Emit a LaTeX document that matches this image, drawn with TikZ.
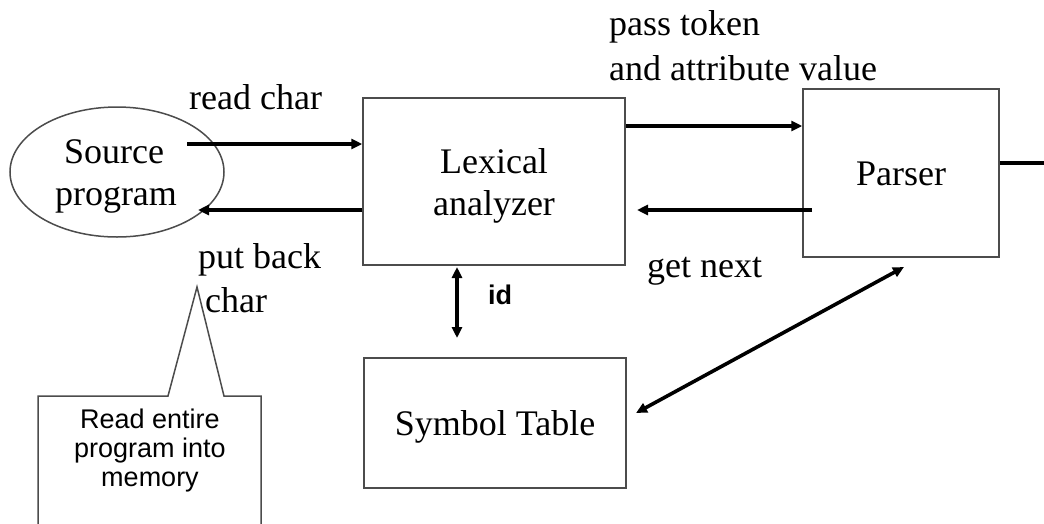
\documentclass[tikz,border=0pt]{standalone}
\usepackage{fontspec}
\setmainfont{Liberation Serif}
\newfontfamily\calloutfont{Liberation Sans}
\usetikzlibrary{arrows.meta,shapes.geometric}

\tikzset{
  block/.style={draw=black!70, line width=1.5pt, inner sep=0pt},
  flow/.style={line width=3.6pt, -{Triangle[length=11pt,width=10pt]}},
  bothway/.style={line width=3.6pt, {Triangle[length=11pt,width=10pt]}-{Triangle[length=11pt,width=10pt]}},
  serif/.style={font=\fontsize{36}{42}\selectfont, inner sep=0pt},
  note/.style={font=\calloutfont\fontsize{27}{29}\selectfont, inner sep=0pt},
}

\begin{document}
\begin{tikzpicture}[x=1pt, y=-1pt]
  \clip (0,0) rectangle (1044,523);
  \fill[white] (0,0) rectangle (1044,523);

  % components
  \node[block, ellipse, minimum width=214pt, minimum height=130pt] (src) at (117,172) {};
  \node[block, minimum width=262pt, minimum height=167pt] (lex) at (494,181.5) {};
  \node[block, minimum width=196pt, minimum height=168pt] (parser) at (901,173) {};
  \node[block, minimum width=262pt, minimum height=130pt] (symtab) at (495,423) {};

  % component names
  \node[serif, anchor=base] (srcA) at (114,163) {Source};
  \node[serif, anchor=base] (srcB) at (116,205) {program};
  \node[serif, anchor=base] (lexA) at (494,173) {Lexical};
  \node[serif, anchor=base] (lexB) at (494,215) {analyzer};
  \node[serif, anchor=base] (parT) at (901,185) {Parser};
  \node[serif, anchor=base] (symT) at (495,435) {Symbol Table};

  % connector labels
  \node[serif, anchor=base west] (readc) at (189,109) {read char};
  \node[serif, anchor=base west] (putA) at (198,268) {put back};
  \node[serif, anchor=base west] (putB) at (205,312) {char};
  \node[serif, anchor=base west] (passA) at (609,35) {pass token};
  \node[serif, anchor=base west] (passB) at (609,80) {and attribute value};
  \node[serif, anchor=base west] (getn) at (647,277) {get next};
  \node[font=\calloutfont\bfseries\fontsize{27}{29}\selectfont, inner sep=0pt, anchor=base west] (idl) at (488,304) {id};

  % connector end points
  \coordinate (rcStart) at (187,144);
  \coordinate (pbEnd) at (198,210);
  \coordinate (gnStart) at (812,210);
  \coordinate (gnEnd) at (637,210);
  \coordinate (idTop) at (457,267);
  \coordinate (idBot) at (457,338);
  \coordinate (stEnd) at (636,413);
  \coordinate (paEnd) at (904,267);
  \coordinate (outEnd) at (1060,163);

  % connectors
  \draw[flow] (rcStart) -- (rcStart -| lex.west);
  \draw[flow] (pbEnd -| lex.west) -- (pbEnd);
  \draw[flow] (lex.east |- 0,126) -- (parser.west |- 0,126);
  \draw[flow] (gnStart) -- (gnEnd);
  \draw[bothway] (idTop) -- (idBot);
  \draw[bothway] (stEnd) -- (paEnd);
  \draw[line width=3.6pt] (parser.east |- outEnd) -- (outEnd);

  % callout
  \draw[draw=black!70, line width=1.5pt]
    (38,540) -- (38,396) -- (168,396) -- (197,287) -- (224,396) -- (261,396) -- (261,540);
  \node[note, anchor=base] (noteA) at (150,428) {Read entire};
  \node[note, anchor=base] (noteB) at (150,457) {program into};
  \node[note, anchor=base] (noteC) at (150,486) {memory};
\end{tikzpicture}
\end{document}
